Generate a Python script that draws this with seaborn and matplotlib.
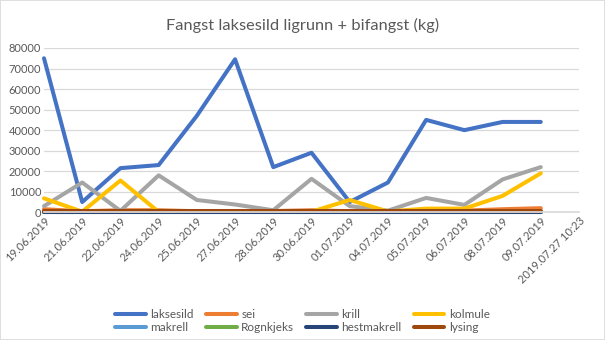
import numpy as np
import pandas as pd
import matplotlib
matplotlib.use("Agg")
import matplotlib.pyplot as plt
import seaborn as sns

dates = ["19.06.2019", "21.06.2019", "22.06.2019", "24.06.2019", "25.06.2019",
         "27.06.2019", "28.06.2019", "30.06.2019", "01.07.2019", "04.07.2019",
         "05.07.2019", "06.07.2019", "08.07.2019", "09.07.2019", "2019.07.27 10:23"]
nan = np.nan
laksesild = [75000, 5000, 21500, 23000, 47000, 74500, 22000, 29000, 5000, 14500, 45000, 40000, 44000, 44000, nan]
sei = [1500, 500, 1000, 1000, 500, 500, 600, 1000, 500, 500, 800, 800, 1500, 2000, nan]
krill = [3000, 14500, 700, 18000, 6000, 3800, 1000, 16300, 3000, 800, 7000, 3600, 16000, 22000, nan]
kolmule = [6800, 300, 15500, 200, 400, 600, 300, 300, 6000, 400, 1800, 1800, 8000, 19000, nan]
makrell = [0, 0, 0, 0, 0, 0, 0, 0, 0, 0, 0, 0, 0, 0, nan]
rognkjeks = [0, 0, 0, 0, 0, 0, 0, 0, 0, 0, 0, 0, 0, 0, nan]
hestmakrell = [0, 0, 0, 0, 0, 0, 0, 0, 0, 0, 0, 0, 0, 0, nan]
lysing = [500, 500, 500, 500, 500, 500, 500, 500, 500, 500, 500, 500, 500, 500, nan]

series = {"laksesild": laksesild, "sei": sei, "krill": krill, "kolmule": kolmule,
          "makrell": makrell, "Rognkjeks": rognkjeks, "hestmakrell": hestmakrell,
          "lysing": lysing}
colors = {"laksesild": "#4472C4", "sei": "#ED7D31", "krill": "#A5A5A5", "kolmule": "#FFC000",
          "makrell": "#5B9BD5", "Rognkjeks": "#70AD47", "hestmakrell": "#264478",
          "lysing": "#9E480E"}
title = "Fangst laksesild ligrunn + bifangst (kg)"

rows = []
for name, vals in series.items():
    for i, v in enumerate(vals):
        rows.append({"pos": i, "date": dates[i], "art": name, "kg": v})
df = pd.DataFrame(rows)

sns.set_theme(style="white")
plt.rcParams["font.family"] = ["Lato", "DejaVu Sans"]

fig = plt.figure(figsize=(6.05, 3.4), dpi=100)
ax = fig.add_axes([44 / 605, 1 - 212.3 / 340, (579 - 44) / 605, (212.3 - 48) / 340])

sns.lineplot(data=df.dropna(), x="pos", y="kg", hue="art", hue_order=list(series.keys()),
             palette=colors, linewidth=2.9, ax=ax, legend=False, sort=False,
             estimator=None)
for ln in ax.lines:
    ln.set_clip_on(False)

ax.set_xlim(0, len(dates) - 1)
ax.set_ylim(0, 80000)
ax.set_yticks(np.arange(0, 80001, 10000))
ax.set_yticklabels([str(v) for v in range(0, 80001, 10000)], fontsize=8, color="#595959")
ax.set_xticks(range(len(dates)))
ax.set_xticklabels(dates, rotation=45, ha="right", rotation_mode="anchor", fontsize=8,
                   color="#595959")
ax.tick_params(axis="both", length=0, pad=2)
ax.grid(axis="y", color="#d9d9d9", linewidth=0.9)
ax.set_axisbelow(True)
for s in ["top", "right", "left"]:
    ax.spines[s].set_visible(False)
ax.spines["bottom"].set_color("#d9d9d9")
ax.set_xlabel("")
ax.set_ylabel("")

fig.text(0.5, 1 - 25 / 340, title, ha="center", va="center", fontsize=11.8, color="#595959")

from matplotlib.lines import Line2D
names = list(series.keys())
order = [0, 4, 1, 5, 2, 6, 3, 7]
handles = [Line2D([], [], color=colors[names[i]], linewidth=2.9) for i in order]
labels = [names[i] for i in order]
fig.legend(handles, labels, ncol=4, loc="center", bbox_to_anchor=(0.5, 1 - 321 / 340),
           frameon=False, fontsize=8.5, labelcolor="#595959", handlelength=2.6,
           handletextpad=0.4, columnspacing=1.0, labelspacing=0.2)

fig.patches.append(plt.Rectangle((0, 0), 1, 1, transform=fig.transFigure, fill=False,
                                 edgecolor="#d9d9d9", linewidth=1.2))
fig.savefig("out.png", dpi=100)
